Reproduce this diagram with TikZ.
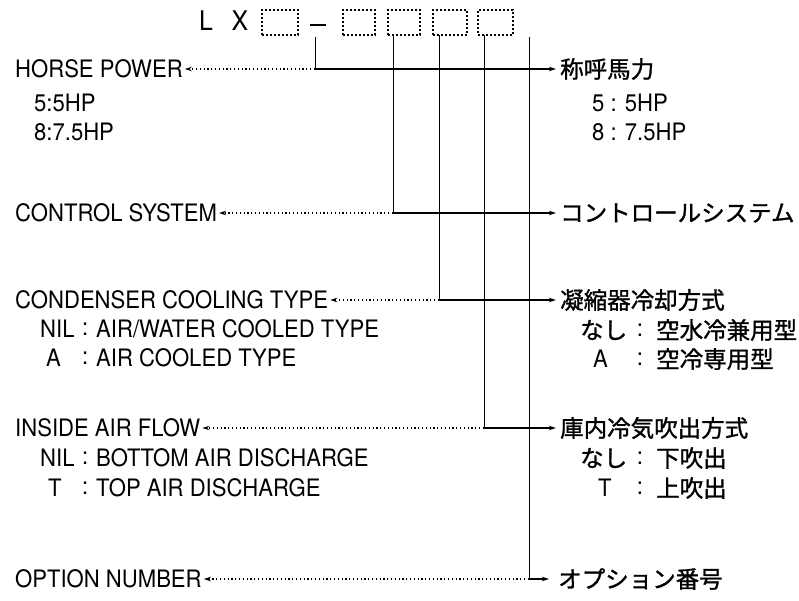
\documentclass[tikz,border=0pt]{standalone}
\usepackage{fontspec}
\setmainfont{TeX Gyre Heros}[FakeStretch=0.92]
\newfontfamily\jp{Noto Sans CJK JP}[FakeBold=1.2]
\usetikzlibrary{arrows.meta}
\begin{document}
\begin{tikzpicture}[x=1pt,y=-1pt,
  lat/.style={inner sep=0pt, anchor=west, font=\fontsize{24}{27}\selectfont},
  jpl/.style={inner sep=0pt, anchor=west, font=\jp\fontsize{23.5}{26}\selectfont},
  dbox/.style={draw, line width=1.3pt, dash pattern=on 1.6pt off 2.4pt, minimum height=25pt, inner sep=0pt},
  vl/.style={line width=0.8pt},
  hl/.style={line width=1.6pt, -{Stealth[length=7pt,width=4.5pt]}},
  dl/.style={line width=1.1pt, dash pattern=on 1.2pt off 2.6pt, -{Stealth[length=7pt,width=4.5pt]}, shorten >=2pt},
]
\useasboundingbox (0,0) rectangle (799,600);

% top code
\node[lat, anchor=center, font=\fontsize{27}{29}\selectfont] (L) at (206,21) {L};
\node[lat, anchor=center, font=\fontsize{27}{29}\selectfont] (X) at (240,21) {X};
\node[dbox, minimum width=36pt] (b1) at (280,22.5) {};
\node[dbox, minimum width=32pt] (b2) at (359,22.5) {};
\node[dbox, minimum width=32pt] (b3) at (404,22.5) {};
\node[dbox, minimum width=34pt] (b4) at (450,22.5) {};
\node[dbox, minimum width=35pt] (b5) at (495.5,22.5) {};
\coordinate (d1) at (310,25);
\coordinate (d2) at (326,25);
\draw[line width=1.8pt] (d1) -- (d2);

% tops of vertical lines
\coordinate (t1) at (315,37);
\coordinate (t3) at (393,35);
\coordinate (t4) at (439,35);
\coordinate (t5) at (484,35);
\coordinate (t6) at (529,37);
% corners
\coordinate (c1) at (315,69);
\coordinate (c2) at (393,213);
\coordinate (c3) at (439,300);
\coordinate (c4) at (484,428);
\coordinate (c5) at (529,579);

% left labels
\node[lat] (l1) at (15,69) {HORSE POWER};
\node[lat] at (34,103) {5:5HP};
\node[lat] at (34,132) {8:7.5HP};
\node[lat] (l2) at (15,213) {CONTROL SYSTEM};
\node[lat] (l3) at (15,300) {CONDENSER COOLING TYPE};
\node[lat] at (40,329) {NIL};
\node[lat] at (82,329) {:};
\node[lat] at (96,329) {AIR/WATER COOLED TYPE};
\node[lat] at (46,358) {A};
\node[lat] at (82,358) {:};
\node[lat] at (96,358) {AIR COOLED TYPE};
\node[lat] (l4) at (15,428) {INSIDE AIR FLOW};
\node[lat] at (40,458) {NIL};
\node[lat] at (82,458) {:};
\node[lat] at (96,458) {BOTTOM AIR DISCHARGE};
\node[lat] at (48,488) {T};
\node[lat] at (82,488) {:};
\node[lat] at (96,488) {TOP AIR DISCHARGE};
\node[lat] (l5) at (15,579) {OPTION NUMBER};

% right labels
\node[jpl] (r1) at (560,69) {称呼馬力};
\node[lat] at (592,103) {5 : 5HP};
\node[lat] at (592,132) {8 : 7.5HP};
\node[jpl] (r2) at (560,213) {コントロールシステム};
\node[jpl] (r3) at (560,300) {凝縮器冷却方式};
\node[jpl] at (580,330) {なし};
\node[lat, anchor=center] at (640,330) {:};
\node[jpl] at (656,330) {空水冷兼用型};
\node[lat] at (593,359) {A};
\node[lat, anchor=center] at (640,359) {:};
\node[jpl] at (656,359) {空冷専用型};
\node[jpl] (r4) at (560,428) {庫内冷気吹出方式};
\node[jpl] at (580,458) {なし};
\node[lat, anchor=center] at (640,458) {:};
\node[jpl] at (656,458) {下吹出};
\node[lat] at (598,488) {T};
\node[lat, anchor=center] at (640,488) {:};
\node[jpl] at (656,488) {上吹出};
\node[jpl] (r5) at (558,579) {オプション番号};

% vertical lines
\draw[vl] (t1) -- (c1);
\draw[vl] (t3) -- (c2);
\draw[vl] (t4) -- (c3);
\draw[vl] (t5) -- (c4);
\draw[vl] (t6) -- (c5);

% horizontal arrows
\draw[hl, shorten >=4pt] (c1) -- (r1.west);
\draw[hl, shorten >=4pt] (c2) -- (r2.west);
\draw[hl, shorten >=4pt] (c3) -- (r3.west);
\draw[hl, shorten >=4pt] (c4) -- (r4.west);
\draw[hl, shorten >=9pt] (c5) -- (r5.west);

% dotted arrows
\draw[dl] (c1) -- (l1.east);
\draw[dl] (c2) -- (l2.east);
\draw[dl] (c3) -- (l3.east);
\draw[dl] (c4) -- (l4.east);
\draw[dl] (c5) -- (l5.east);
\end{tikzpicture}
\end{document}
